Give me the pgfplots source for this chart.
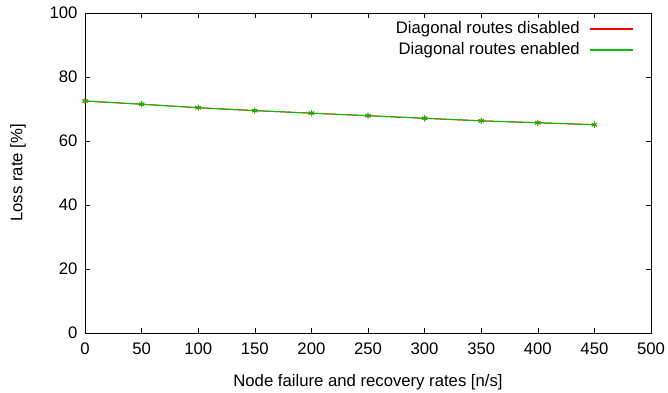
\documentclass[border=0pt]{standalone}
\usepackage{pgfplots}
\pgfplotsset{compat=1.18}
\usepackage{fontspec}
\setmainfont{Liberation Sans}
\definecolor{gpred}{RGB}{255,0,0}
\definecolor{gpgreen}{RGB}{0,192,0}
\begin{document}
\begin{tikzpicture}
\useasboundingbox (-85pt,-59pt) rectangle (583pt,333pt);
\begin{axis}[
  scale only axis,
  width=566pt, height=320pt,
  xmin=0, xmax=500, ymin=0, ymax=100,
  xtick={0,50,...,500}, ytick={0,20,...,100},
  minor tick num=0,
  tick align=inside,
  major tick length=5pt,
  axis line style={line width=0.8pt},
  tick style={line width=0.6pt, black},
  /pgf/number format/assume math mode=true,
  font=\fontsize{16.7}{19}\selectfont,
  ticklabel style={font=\fontsize{16.7}{19}\selectfont},
  xticklabel style={yshift=-6.5pt},
  yticklabel style={xshift=-4pt},
  xlabel={Node failure and recovery rates [n/s]},
  ylabel={Loss rate [\%]},
  xlabel style={at={(axis description cs:0.5,0)}, anchor=center, yshift=-49.5pt},
  ylabel style={at={(axis description cs:-0.1184,0.5)}, anchor=center},
  legend plot pos=right,
  legend cell align=right,
  legend image code/.code={\path[draw=none, fill=none] (0pt,-2pt) rectangle (51pt,2pt); \draw[#1] (8pt,0pt) -- (51pt,0pt);},
  legend style={draw=none, fill=none, at={(rel axis cs:0.9703,0.983)}, anchor=north east,
    font=\fontsize{16.7}{19}\selectfont, row sep=0pt, inner sep=0pt,
    nodes={inner sep=2.5pt, text height=12pt, text depth=4pt}},
]
\addlegendimage{draw=gpred, line width=1.5pt}
\addlegendentry{Diagonal routes disabled}
\addlegendimage{draw=gpgreen, line width=1.5pt}
\addlegendentry{Diagonal routes enabled}
\addplot[forget plot, color=gpred, line width=1pt, mark=asterisk, mark size=3pt, mark options={line width=0.8pt}] coordinates {
(0,72.5) (50,71.5) (100,70.4) (150,69.5) (200,68.7) (250,67.9) (300,67.1) (350,66.3) (400,65.7) (450,65.1)
};
\addplot[forget plot, color=gpgreen, line width=1pt, mark=asterisk, mark size=3pt, mark options={line width=0.8pt}] coordinates {
(0,72.5) (50,71.5) (100,70.4) (150,69.5) (200,68.7) (250,67.9) (300,67.1) (350,66.3) (400,65.7) (450,65.1)
};
\end{axis}
\end{tikzpicture}
\end{document}
